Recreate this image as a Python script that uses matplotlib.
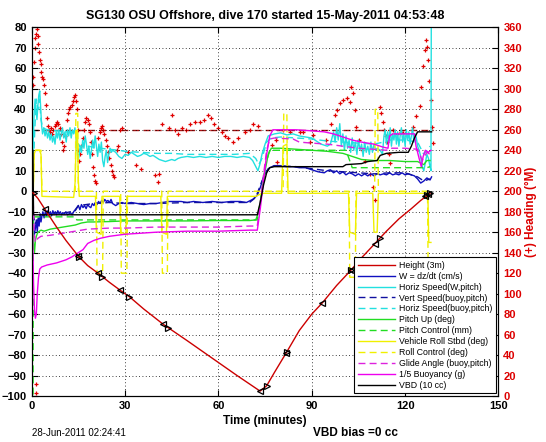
import matplotlib
matplotlib.use("Agg")
import matplotlib.pyplot as plt

plt.rcParams['font.family'] = ['Liberation Sans', 'DejaVu Sans']

# (minutes, value) pairs
height = [(0.4, -0.7), (2, -3.5), (4.3, -8.9), (8, -17.5), (11, -24), (15, -31.7),
          (18, -36.3), (21.4, -40.1), (25, -44.5), (28.4, -48.3), (31.4, -51.5),
          (36, -57.5), (42.3, -65), (50, -73), (58, -81.5), (66, -90), (73.4, -97.6),
          (75.5, -95), (78, -88.5), (81.8, -78.9), (86, -68), (90, -60), (93.4, -54.5),
          (98, -46), (102.5, -38.7), (106, -32.5), (110.2, -25.7), (114, -19.5),
          (118, -13.5), (122, -8.5), (125, -4.5), (128, -1)]

gc_left = [(4.3, -8.9), (15, -31.7), (21.4, -40.1), (28.4, -48.3), (42.3, -65),
           (73.4, -97.6), (81.8, -78.9), (93.4, -54.5), (102.5, -38.7), (110.2, -25.7),
           (126.5, -2.5), (127.5, -1.5)]
gc_right = [(0.6, -0.7), (15.2, -31.9), (22.5, -41.8), (31.4, -51.5), (43.9, -67),
            (75.5, -95), (82, -78.4), (102.7, -38.3), (112, -23), (127, -2), (128, -1)]

w_speed = [(0, 0), (0.3, -5), (0.6, -15), (0.9, -21), (1.2, -18), (1.5, -14), (1.8, -20),
           (2.1, -13), (2.4, -17), (2.7, -11), (3.0, -15), (3.3, -12), (3.6, -10), (4, -13),
           (4.4, -10), (4.8, -12), (5.2, -9.5), (5.6, -11.5), (6, -10), (6.4, -12), (6.8, -9.5),
           (7.2, -11), (7.6, -10), (8, -11.5), (8.4, -9.5), (8.8, -11), (9.2, -10), (9.6, -11.5),
           (10, -10.5), (10.5, -11), (11, -10), (11.5, -11.5), (12, -11), (12.5, -10.5),
           (13, -11.5), (13.5, -10), (14, -9), (14.5, -8), (15, -7), (15.5, -9), (16, -6.5),
           (16.5, -8), (17, -7), (17.5, -8.5), (18, -6.5), (18.5, -7.5), (19, -8), (19.5, -6),
           (20, -7), (20.5, -5.5), (21, -6.5), (21.5, -5), (22, -6), (22.5, -4.5), (23, -5.5),
           (23.5, -4), (24, -5), (24.5, -4.5), (25, -5.5), (25.5, -4), (26, -6), (27, -7),
           (28, -6), (29, -5.5), (30, -6), (32, -5.5), (34, -6), (36, -6.5), (38, -6), (40, -6),
           (42, -5.5), (44, -5), (46, -5), (48, -5), (50, -5.5), (52, -5), (55, -5.5), (58, -5),
           (61, -5.5), (64, -5), (67, -5), (69, -5.5), (71, -4), (72.5, -2), (73.5, 2),
           (74.5, 7), (75.5, 10), (76.5, 11.5), (78, 12.5), (80, 12.5), (82, 12), (84, 12),
           (86, 11.5), (88, 11.5), (90, 10.5), (92, 9.5), (94, 9), (95, 10), (96, 10.5),
           (97, 9), (98, 10), (99, 8.5), (100, 9.5), (101, 8), (102, 9), (103, 8.5), (104, 7.5),
           (105, 8.5), (106, 7.5), (107, 8.5), (108, 7.5), (109, 8.5), (110, 7.5), (111, 8.5),
           (112, 8), (113, 8.5), (114, 8), (115, 9), (116, 8), (117, 8.5), (118, 8), (119, 9),
           (120, 8), (121, 8.5), (122, 8), (123, 7.5), (124, 6), (125, 4), (126, 5),
           (127, 6.5), (128, 5.5), (128.5, 7)]

vert_buoy = [(0, 0), (0.5, -10), (1, -16), (2, -14), (3, -12), (5, -11), (8, -10.5),
             (11, -10.5), (14, -9.5), (15, -7), (20, -6), (25, -5.5), (30, -6), (40, -6),
             (50, -5.5), (60, -5.5), (70, -5.5), (72, -3), (74, 5), (76, 11), (78, 12.5),
             (85, 12), (90, 11), (95, 10), (100, 9.5), (105, 9), (110, 8.5), (115, 9),
             (120, 9), (124, 7), (126, 5), (128, 6)]

horiz_w = [(0.2, 5), (0.5, 25), (0.8, 38), (1.1, 45), (1.4, 40), (1.7, 35), (2.0, 42),
           (2.3, 47), (2.6, 49), (2.9, 40), (3.2, 32), (3.5, 28), (3.9, 31), (4.3, 27),
           (4.7, 30), (5.1, 26), (5.5, 29), (5.9, 25), (6.3, 28), (6.7, 24), (7.1, 27),
           (7.5, 23), (7.9, 29), (8.3, 26), (8.7, 30), (9.1, 25), (9.5, 28), (9.9, 31),
           (10.3, 26), (10.7, 29), (11.1, 24), (11.5, 30), (11.9, 27), (12.3, 31), (12.7, 26),
           (13.1, 30), (13.5, 28), (13.9, 31), (14.3, 26), (14.6, 20), (14.9, 15), (15.2, 17),
           (15.6, 22), (16.0, 19), (16.4, 25), (16.8, 21), (17.2, 27), (17.6, 23), (18.0, 18),
           (18.4, 22), (18.8, 16), (19.2, 20), (19.6, 25), (20.0, 21), (20.4, 27), (20.8, 22),
           (21.2, 17), (21.6, 23), (22.0, 19), (22.4, 24), (22.8, 15), (23.2, 12), (23.6, 17),
           (24.0, 20), (24.4, 14), (24.8, 18), (25.2, 21), (25.6, 19), (26, 20), (27, 19),
           (28, 17), (29, 16), (30, 18), (31, 17.5), (32, 19), (33, 18), (34, 17), (35, 17.5),
           (36, 18.5), (37, 18), (38, 17), (39, 17.5), (40, 16.5), (41, 15.5), (42, 15),
           (43, 14.5), (44, 15), (45, 15.5), (46, 15), (47, 16), (48, 16.5), (50, 17),
           (52, 16.5), (54, 17), (56, 16.5), (58, 17), (60, 16.5), (62, 17), (64, 17),
           (66, 16.5), (68, 17), (70, 16.5), (71, 15), (72, 12), (72.7, 10), (73.3, 13),
           (74, 18), (75, 23), (76, 27), (77, 27.5), (78, 28), (80, 28.5), (82, 27.5),
           (84, 28), (86, 27), (88, 26.5), (90, 26), (91, 25), (92, 24), (93, 23),
           (94, 22.5), (95, 22), (96, 23), (97, 29), (97.5, 24), (98, 31), (98.5, 25),
           (99, 33), (99.5, 22), (100, 28), (100.5, 20), (101, 27), (101.5, 21), (102, 25),
           (102.5, 19), (103, 26), (103.5, 20), (104, 24), (104.5, 18), (105, 25),
           (105.5, 20), (106, 23), (106.5, 17), (107, 24), (107.5, 19), (108, 22),
           (108.5, 18), (109, 24), (109.5, 19), (110, 23), (110.5, 20), (111, 21), (112, 20),
           (112.7, 18), (113.2, 27), (113.6, 30), (114, 23), (114.4, 29), (114.8, 24),
           (115.2, 31), (115.6, 22), (116, 28), (116.4, 25), (116.8, 30), (117.2, 23),
           (117.6, 29), (118, 22), (118.4, 27), (118.8, 31), (119.2, 24), (119.6, 28),
           (120, 22), (120.4, 30), (120.8, 25), (121.2, 29), (121.6, 23), (122, 27),
           (122.4, 31), (122.8, 24), (123.2, 28), (123.6, 26), (124, 22), (124.5, 20),
           (125, 17), (125.5, 12), (126, 10), (126.5, 14), (127, 18), (127.5, 16), (128, 12),
           (128.3, 10), (128.4, 80)]

horiz_buoy = [(0.5, 10), (1, 30), (1.5, 45), (2, 40), (2.5, 45), (3, 35), (3.5, 31),
              (5, 30), (8, 29.5), (11, 29), (14, 29), (14.6, 24), (15.5, 22), (18, 22),
              (22, 21), (25, 20.5), (28, 20), (30, 19.5), (35, 19), (40, 18.5), (45, 18.5),
              (50, 18), (55, 18), (60, 18), (65, 18), (70, 18.5), (72, 16), (73, 13),
              (74, 16), (75.5, 24), (77, 26), (80, 26.5), (85, 26), (90, 25.5), (95, 24.5),
              (100, 24), (105, 23.5), (110, 23), (113, 24), (115, 25), (120, 25), (124, 24),
              (126, 18), (128, 22)]

pitch_up = [(0, 0), (0.3, -10), (0.6, -25), (0.9, -30), (1.2, -24), (1.5, -22), (2, -20),
            (3, -19), (4, -19.5), (6, -18.5), (8, -18), (10, -17.5), (12, -17), (14, -16.5),
            (16, -15.5), (18, -15), (20, -15), (25, -14.8), (30, -14.5), (40, -14.5),
            (50, -14.5), (60, -14.3), (70, -14.3), (72, -14), (73, -10), (74, 0), (75, 10),
            (76, 18), (77, 21), (80, 21), (85, 20.5), (90, 20), (95, 19.5), (100, 18.5),
            (103, 17), (106, 15.5), (110, 15), (115, 15), (120, 14.5), (124, 14.5),
            (126, 13), (127, 15), (128, 15)]

pitch_ctl = [(0, -104), (0.45, -104), (0.5, -12.5), (14, -12.5), (14.5, -14), (72.5, -14),
             (73.5, -5), (75, 12), (76.5, 20), (101, 20), (103, 11.5), (127, 11.5),
             (128, 12)]

roll = [(0, 0), (0.5, -2), (0.8, 18), (1.2, 20), (2.5, 20), (3.0, 18), (3.3, -2.5),
        (13.5, -3), (14, 5), (14.3, 28), (14.7, 30), (15, 5), (15.3, -2.5), (20.5, -2.5),
        (20.8, -20), (22.3, -21), (22.6, -2.5), (28.3, -2.5), (28.6, -20), (30.3, -21),
        (30.6, -2.5), (41.5, -2.5), (41.8, -20), (43.3, -21), (43.6, -2.5), (72, -2.5),
        (74, -1), (80.3, -1), (80.8, 22), (82, 23), (82.4, -1), (101.8, -1), (102.2, -20),
        (104, -21), (104.4, -1), (109.6, -1), (110, -20), (111, -20), (111.4, -1),
        (127.3, -1), (127.6, -25), (128.3, -25)]

roll_ctl = [(0, 0), (0.5, 0), (0.8, 20), (3.0, 20), (3.3, 0), (14, 0), (14.2, 38),
            (14.8, 38), (15.0, 0), (20.8, 0), (21, -40), (22.8, -40), (23, 0), (28.6, 0),
            (28.8, -40), (30.6, -40), (30.8, 0), (41.8, 0), (42, -40), (43.6, -40),
            (43.8, 0), (80.8, 0), (81, 38), (82, 38), (82.2, 0), (102, 0), (102.2, -42),
            (104, -42), (104.2, 0), (110.2, 0), (110.4, 40), (111.2, 40), (111.4, 0),
            (127.2, 0), (127.4, -40), (128.3, -40)]

glide = [(0.5, -5), (0.8, -20), (1.2, -25), (2, -23), (3, -22), (6, -21.5), (10, -20.5),
         (14, -19.5), (18, -18.5), (25, -18), (30, -18), (40, -17.5), (50, -17.5),
         (60, -17.5), (70, -17), (72.5, -17), (73.5, -5), (74.5, 8), (75.5, 20),
         (76.5, 25.5), (78, 26), (84, 25.5), (86, 24), (90, 23.5), (95, 23), (100, 22),
         (105, 21), (110, 20.5), (114, 20), (115, 21), (120, 21), (124, 20.5),
         (125.5, 15), (127, 19), (128, 18)]

buoyancy = [(0, 0), (0.3, -20), (0.6, -45), (0.9, -58), (1.2, -62), (1.5, -60),
            (1.8, -50), (2.2, -42), (2.6, -38), (3.2, -37), (5, -36), (8, -35),
            (11, -33.5), (13, -32), (15, -30), (16.5, -28.5), (18, -25.5), (20, -24),
            (22, -23), (25, -22), (30, -21), (35, -20.5), (40, -20), (50, -19.5),
            (60, -19.5), (70, -19), (72.5, -19), (73.5, -8), (74.5, 5), (75.5, 18),
            (76.5, 27), (77.5, 30), (80, 30), (85, 30), (90, 29.5), (94, 29), (97, 28),
            (100, 26.5), (103, 25), (106, 24), (110, 23), (113, 21.5), (114.5, 21),
            (115, 27), (116, 28), (120, 28), (123, 28), (123.5, 22), (124.5, 16),
            (125.2, 12), (125.8, 17), (126.5, 20), (127.5, 19), (128.3, 20)]

vbd = [(0, 20), (0.4, 20), (0.6, -11.5), (72.5, -11.5), (73.5, -5), (74.5, 3),
       (75.5, 9), (76.5, 11.5), (78, 12), (100, 12), (101, 13), (106, 13.5), (108, 14.5),
       (111, 15), (112, 17.5), (114, 18.5), (118, 19), (121, 19), (122, 22), (123, 26),
       (124, 29), (128.5, 29)]

# heading in degrees magnetic (right axis)
heading = [(0.3, 304), (0.5, 312), (0.8, 326), (1.0, 340), (1.2, 350), (1.4, 354),
           (1.6, 358), (1.9, 352), (2.1, 344), (2.4, 336), (2.6, 328), (2.9, 324),
           (3.1, 316), (3.4, 312), (3.6, 310), (3.9, 304), (4.2, 296), (4.5, 284),
           (4.8, 272), (5.2, 264), (5.6, 260), (1.3, 12), (1.4, 3),
           (5.8, 258), (6.2, 262), (6.6, 256), (7.0, 260), (7.4, 264), (7.8, 266),
           (8.2, 268), (8.6, 266), (9.0, 262), (9.4, 256), (9.8, 248), (10.1, 240),
           (10.4, 244), (10.8, 254), (11.2, 270), (11.6, 276), (12.0, 280), (12.4, 282),
           (12.8, 284), (13.2, 288), (13.6, 292), (13.9, 294), (14.2, 288), (14.5, 280),
           (14.8, 260), (15.0, 240), (15.2, 230), (15.6, 236), (16.0, 244), (16.4, 252),
           (16.8, 260), (17.2, 268), (17.6, 272), (18.0, 270), (18.4, 266), (18.8, 258),
           (19.2, 248), (19.5, 236), (19.8, 224), (20.1, 216), (20.4, 210), (20.7, 208),
           (21.4, 252), (21.8, 258), (22.2, 262), (22.6, 264), (23.0, 260), (23.4, 256),
           (23.8, 250), (24.2, 244), (24.6, 238), (25.0, 232), (25.4, 226), (25.8, 220),
           (26.2, 216), (26.6, 214), (27.3, 240), (27.8, 244), (28.4, 260), (29.0, 262),
           (31.0, 238), (33.5, 226), (35.0, 222), (39.5, 216), (40.5, 209), (40.8, 217),
           (42, 266), (44, 262), (45, 274), (46, 260), (47, 256), (48.3, 262), (49.5, 260),
           (51, 266), (52.5, 268), (54, 268), (55.5, 270), (56.5, 274), (57.5, 272),
           (58.5, 266), (60, 262), (61, 258), (62, 254), (63.2, 252), (64.8, 248),
           (66.4, 252), (68.5, 258), (70, 260), (71.2, 266), (72.8, 264),
           (77.1, 245), (78.7, 229), (78.6, 250), (80.9, 260), (82.9, 258), (86.1, 258),
           (87.3, 258), (89.5, 248), (90.4, 255), (94.7, 250), (96.3, 266), (97.4, 274),
           (98.1, 279), (99, 286), (100, 289), (101.3, 291), (102.2, 287), (102.7, 302),
           (103.2, 296), (103.8, 279), (104.3, 263), (105.2, 250), (106, 240), (107, 230),
           (108.6, 217), (109.7, 204), (110.2, 191), (111.8, 282), (112.3, 276),
           (112.8, 268), (113.3, 260), (113.8, 254), (114.3, 248), (114.8, 236),
           (115.2, 228), (116, 260), (117.5, 256), (118.6, 258), (119.3, 257),
           (122.5, 263), (123.6, 273), (124.7, 283), (125.2, 302), (125.8, 322),
           (126.3, 338), (126.8, 348), (127.1, 341), (127.4, 328), (127.8, 308),
           (128.4, 289), (128.7, 263), (128.9, 247)]

target_heading = [(0, 260), (129, 260)]

title = "SG130 OSU Offshore, dive 170 started 15-May-2011 04:53:48"


def xy(pairs):
    return [p[0] for p in pairs], [p[1] for p in pairs]


fig = plt.figure(figsize=(5.46, 4.42), dpi=100)
ax = fig.add_axes([0.058, 0.104, 0.855, 0.834])

lw = 1.0
ax.plot(*xy(height), color='#cc0000', lw=lw, label='Height (3m)', zorder=5)
ax.plot(*xy(w_speed), color='#1010c0', lw=lw, label='W = dz/dt (cm/s)')
ax.plot(*xy(horiz_w), color='#22e0e0', lw=lw, label='Horiz Speed(W,pitch)')
ax.plot(*xy(vert_buoy), color='#1010a0', lw=lw, ls=(0, (5, 3)), label='Vert Speed(buoy,pitch)')
ax.plot(*xy(horiz_buoy), color='#22e0e0', lw=lw, ls=(0, (5, 3)), label='Horiz Speed(buoy,pitch)')
ax.plot(*xy(pitch_up), color='#22dd22', lw=lw, label='Pitch Up (deg)')
ax.plot(*xy(pitch_ctl), color='#22dd22', lw=lw, ls=(0, (5, 3)), label='Pitch Control (mm)')
ax.plot(*xy(roll), color='#f0f000', lw=lw, label='Vehicle Roll Stbd (deg)')
ax.plot(*xy(roll_ctl), color='#f0f000', lw=lw, ls=(0, (5, 3)), label='Roll Control (deg)')
ax.plot(*xy(glide), color='#dd22dd', lw=lw, ls=(0, (5, 3)), label='Glide Angle (buoy,pitch)')
ax.plot(*xy(buoyancy), color='#ee00ee', lw=lw, label='1/5 Buoyancy (g)')
ax.plot(*xy(vbd), color='black', lw=lw, label='VBD (10 cc)')

ax.plot(*xy(gc_left), ls='none', marker='<', ms=5, mfc='none', mec='black', mew=0.9, zorder=6)
ax.plot(*xy(gc_right), ls='none', marker='>', ms=5, mfc='none', mec='black', mew=0.9, zorder=6)

ax.set_xlim(0, 150)
ax.set_ylim(-100, 80)
ax.set_xticks(range(0, 151, 30))
ax.set_yticks(range(-100, 81, 10))
ax.grid(True, color='black', ls=(0, (1, 3)), lw=0.6)
ax.tick_params(direction='in', length=4, top=True, labelsize=8)
for lab in ax.get_xticklabels() + ax.get_yticklabels():
    lab.set_fontweight('bold')
ax.set_xlabel('Time (minutes)', fontsize=8.5, fontweight='bold', labelpad=3)
ax.set_title(title, fontsize=9, fontweight='bold', pad=6)

leg = ax.legend(loc='lower right', fontsize=6.3, handlelength=4.2, labelspacing=0.22,
                borderaxespad=0.3, fancybox=False, framealpha=1, edgecolor='black',
                borderpad=0.4, handletextpad=0.5)
leg.get_frame().set_linewidth(0.8)
leg.set_zorder(10)

ax2 = ax.twinx()
ax2.plot(*xy(target_heading), color='#aa1111', lw=1.0, ls=(0, (5, 3)))
ax2.plot(*xy(heading), ls='none', marker='+', ms=3.2, mew=0.9, color='#e00000')
ax2.set_ylim(0, 360)
ax2.set_yticks(range(0, 361, 20))
ax2.tick_params(direction='in', length=4, labelsize=8, colors='#dd0000')
ax2.tick_params(axis='y', color='black')
for lab in ax2.get_yticklabels():
    lab.set_fontweight('bold')
ax2.set_ylabel('(+) Heading (\u00b0M)', color='#dd0000', fontsize=8.5, fontweight='bold',
               labelpad=2)
ax.set_zorder(ax2.get_zorder() + 1)
ax.patch.set_visible(False)

fig.text(0.058, 0.021, '28-Jun-2011 02:24:41', fontsize=7, va='center', ha='left')
fig.text(0.573, 0.021, 'VBD bias =0 cc', fontsize=8.5, fontweight='bold', va='center', ha='left')

fig.savefig('out.png', dpi=100)
